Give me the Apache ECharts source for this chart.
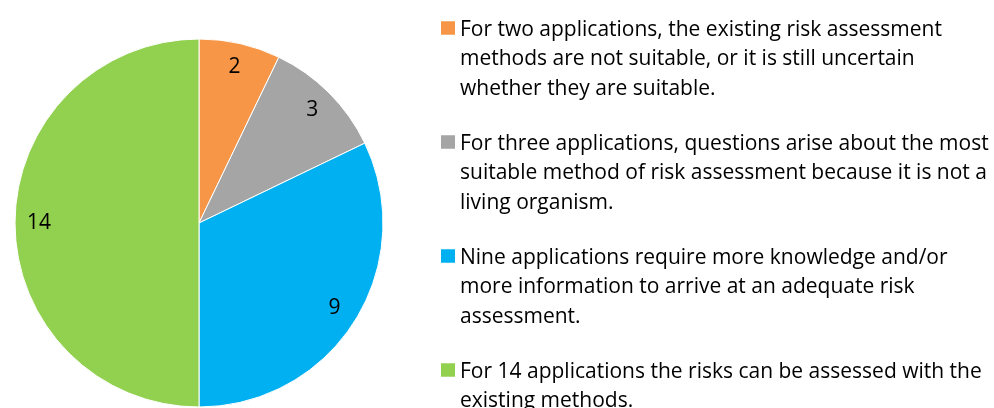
<!DOCTYPE html>
<html>
<head>
<meta charset="utf-8">
<script src="https://cdn.jsdelivr.net/npm/echarts@6/dist/echarts.min.js"></script>
<style>
    html, body { margin: 0; padding: 0; background: #fff; }
    #pic1 { width: 994px; height: 408px; }
</style>
</head>
<body>
<div id="pic1"></div>
<script>
// legend texts, already broken into the lines seen in the picture
var categoryLines = [
    ['For two applications, the existing risk assessment', 'methods are not suitable, or it is still uncertain', 'whether they are suitable.'],
    ['For three applications, questions arise about the most', 'suitable method of risk assessment because it is not a', 'living organism.'],
    ['Nine applications require more knowledge and/or', 'more information to arrive at an adequate risk', 'assessment.'],
    ['For 14 applications the risks can be assessed with the', 'existing methods.', ' ']
];
var categories = categoryLines.map(function (l) { return l.join(' ').trim(); });
var values = [2, 3, 9, 14];
var colors = ['#F79646', '#A5A5A5', '#00B0F0', '#92D050'];

var pieFont = 'Open Sans';

var pie = function () {
    var myChart = echarts.init(document.getElementById('pic1'), null, { renderer: 'canvas' });

    var data = categories.map(function (name, i) {
        return { name: name, value: values[i], itemStyle: { color: colors[i] } };
    });

    var option = {
        animation: false,
        legend: {
            orient: 'vertical',
            left: 436,
            top: 10,
            height: 800,
            itemWidth: 14,
            itemHeight: 88,
            itemGap: 25.5,
            // square drawn near the top of a tall box so it sits next to the first line
            icon: 'path://M0,0 M0,6h14v13.5h-14z M0,88',
            itemStyle: { borderWidth: 0 },
            selectedMode: false,
            formatter: function (name) {
                var i = categories.indexOf(name);
                return categoryLines[i].join('\n');
            },
            textStyle: {
                fontFamily: pieFont,
                fontSize: 21,
                lineHeight: 29.5,
                color: '#000'
            },
            data: categories
        },
        series: [
            {
                type: 'pie',
                radius: 184,
                center: [199, 223],
                startAngle: 90,
                clockwise: true,
                silent: true,
                label: { show: false },
                labelLine: { show: false },
                itemStyle: { borderColor: '#fff', borderWidth: 1 },
                emphasis: { disabled: true },
                data: data
            },
            {
                // transparent ring that only carries the value labels
                type: 'pie',
                radius: [130, 184],
                center: [199, 223],
                startAngle: 90,
                clockwise: true,
                silent: true,
                itemStyle: { color: 'transparent' },
                label: {
                    show: true,
                    position: 'inside',
                    formatter: '{c}',
                    fontFamily: pieFont,
                    fontSize: 21,
                    color: '#000'
                },
                labelLine: { show: false },
                emphasis: { disabled: true },
                data: categories.map(function (name, i) {
                    return { name: name, value: values[i] };
                })
            }
        ]
    };

    myChart.setOption(option);
    return myChart;
};
pie();
</script>
</body>
</html>
